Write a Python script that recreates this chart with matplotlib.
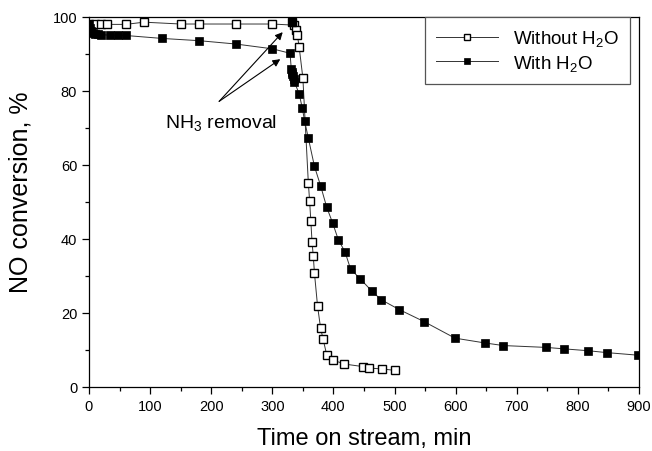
import matplotlib.pyplot as plt
from matplotlib.ticker import MultipleLocator

plt.rcParams['font.family'] = ['Liberation Sans', 'DejaVu Sans']
plt.rcParams['mathtext.fontset'] = 'custom'
plt.rcParams['mathtext.rm'] = 'Liberation Sans'
plt.rcParams['mathtext.it'] = 'Liberation Sans'

# NO conversion without water (open squares)
t_dry = [0, 10, 20, 30, 60, 90, 150, 180, 240, 300, 335, 339, 341, 344, 350,
         359, 361, 363, 365, 367, 369, 374, 379, 383, 389, 399, 418, 449, 458,
         479, 500]
no_dry = [98.0, 98.0, 98.0, 98.0, 98.0, 98.6, 98.1, 98.1, 98.1, 98.1, 97.8,
          96.6, 95.1, 91.8, 83.5, 55.0, 50.4, 44.9, 39.2, 35.4, 30.7, 21.9,
          15.9, 13.0, 8.7, 7.3, 6.2, 5.5, 5.1, 4.9, 4.5]

# NO conversion with water (filled squares)
t_wet = [0, 2, 4, 6, 10, 15, 20, 35, 48, 60, 120, 180, 240, 300, 329, 331,
         332, 333, 334, 335, 336, 344, 349, 353, 359, 369, 379, 389, 399, 408,
         419, 428, 444, 463, 478, 508, 548, 599, 648, 678, 748, 778, 817, 847,
         898]
no_wet = [98.0, 97.0, 96.3, 95.8, 95.5, 95.3, 95.2, 95.1, 95.1, 95.0, 94.2,
          93.6, 92.7, 91.4, 90.2, 86.0, 85.2, 84.5, 84.0, 83.2, 82.5, 79.2,
          75.4, 71.8, 67.2, 59.6, 54.4, 48.6, 44.2, 39.8, 36.5, 31.9, 29.2,
          25.9, 23.6, 20.9, 17.7, 13.2, 11.9, 11.2, 10.7, 10.3, 9.8, 9.3, 8.6]

# single filled point at the top at NH3 removal
t_wet_peak = [333]
no_wet_peak = [98.6]

fig = plt.figure(figsize=(6.52, 4.52), dpi=100)
ax = fig.add_axes([0.1365, 0.1416, 0.8435, 0.8186])

ax.plot(t_dry, no_dry, color='#333333', lw=0.7, marker='s', ms=5.4,
        mfc='white', mec='black', mew=1.0, label='Without H$_2$O')
ax.plot(t_wet, no_wet, color='#333333', lw=0.7, marker='s', ms=6,
        mfc='black', mec='black', mew=0.5, label='With H$_2$O')
ax.plot(t_wet_peak, no_wet_peak, ls='none', marker='s', ms=6,
        mfc='black', mec='black')

arrow = dict(arrowstyle='-|>', lw=0.8, color='black', mutation_scale=11,
             shrinkA=0, shrinkB=0)
ax.annotate('', xy=(317, 95.9), xytext=(213, 77.2), arrowprops=arrow)
ax.annotate('', xy=(313, 88.6), xytext=(213, 77.2), arrowprops=arrow)
ax.text(216, 71.5, 'NH$_3$ removal', fontsize=14, ha='center', va='center')

ax.set_xlim(0, 900)
ax.set_ylim(0, 100)
ax.xaxis.set_major_locator(MultipleLocator(100))
ax.xaxis.set_minor_locator(MultipleLocator(50))
ax.yaxis.set_major_locator(MultipleLocator(20))
ax.yaxis.set_minor_locator(MultipleLocator(10))
ax.tick_params(which='major', direction='out', length=5, width=0.9, labelsize=10.5)
ax.tick_params(which='minor', direction='out', length=3, width=0.9)
for s in ax.spines.values():
    s.set_linewidth(0.9)

ax.set_xlabel('Time on stream, min', fontsize=17, labelpad=10)
ax.set_ylabel('NO conversion, %', fontsize=18)
ax.yaxis.set_label_coords(-0.103, 0.53)

leg = ax.legend(loc='upper right', bbox_to_anchor=(0.984, 1.0), fontsize=13.5,
                fancybox=False, framealpha=1, edgecolor='#555555',
                handlelength=3.3, borderpad=0.6, labelspacing=0.25,
                borderaxespad=0, markerscale=0.7)
leg.get_frame().set_linewidth(0.9)

fig.savefig('out.png', dpi=100)
